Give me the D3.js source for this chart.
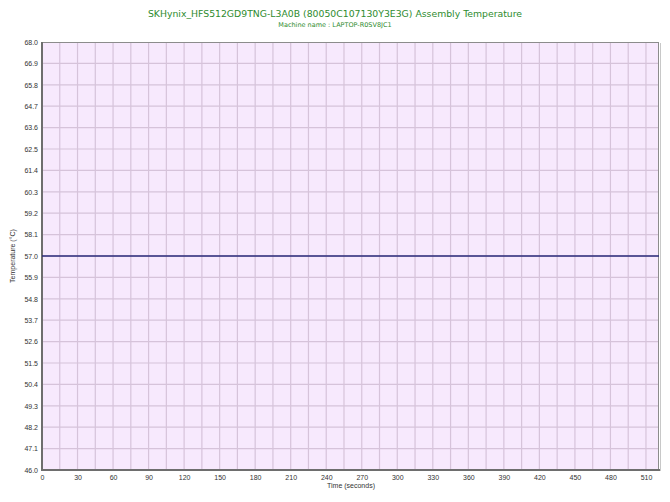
<!DOCTYPE html>
<html><head><meta charset="utf-8">
<script src="https://cdn.jsdelivr.net/npm/d3@7"></script>
<style>body{margin:0;background:#fff;} svg{display:block;}</style>
</head><body>
<svg id="c" width="670" height="502"></svg>
<script>
const titleText = "SKHynix_HFS512GD9TNG-L3A0B (80050C107130Y3E3G) Assembly Temperature";
const subtitleText = "Machine name : LAPTOP-R0SV8JC1";
const timeSeconds = [0, 521];
const temperatureC = [57.0, 57.0];
const xTickValues = [0,30,60,90,120,150,180,210,240,270,300,330,360,390,420,450,480,510];
const yTickValues = [46.0,47.1,48.2,49.3,50.4,51.5,52.6,53.7,54.8,55.9,57.0,58.1,59.2,60.3,61.4,62.5,63.6,64.7,65.8,66.9,68.0];

const svg = d3.select("#c");
const L = 42, T = 42, R = 659, B = 470;
const x = d3.scaleLinear().domain([0, 521]).range([L, R]);
const y = d3.scaleLinear().domain([46, 68]).range([B, T]);

svg.append("rect").attr("x", L).attr("y", T).attr("width", R - L).attr("height", B - T).attr("fill", "#f7e9fd");

const gridColor = "#d6c3da";
const vGrid = d3.range(15, 521, 15);
svg.append("g").selectAll("line").data(vGrid).join("line")
  .attr("x1", d => x(d)).attr("x2", d => x(d))
  .attr("y1", T).attr("y2", B).attr("stroke", gridColor).attr("stroke-width", 1.2);
svg.append("g").selectAll("line").data(yTickValues.slice(1, -1)).join("line")
  .attr("y1", d => y(d)).attr("y2", d => y(d))
  .attr("x1", L).attr("x2", R).attr("stroke", gridColor).attr("stroke-width", 1.2);

// frame
svg.append("rect").attr("x", L + 0.5).attr("y", T + 0.5).attr("width", R - L - 1).attr("height", B - T - 1)
  .attr("fill", "none").attr("stroke", "#8c8c8c").attr("stroke-width", 1);
svg.append("line").attr("x1", R + 1.5).attr("x2", R + 1.5).attr("y1", T + 1).attr("y2", B + 1).attr("stroke", "#c8c8c8");
svg.append("line").attr("x1", L).attr("x2", L).attr("y1", T).attr("y2", B + 1).attr("stroke", "#6e6e6e").attr("stroke-width", 2);
svg.append("line").attr("x1", L).attr("x2", R + 1).attr("y1", B).attr("y2", B).attr("stroke", "#6e6e6e").attr("stroke-width", 2);

// line
const line = d3.line().x((d, i) => x(timeSeconds[i])).y(d => y(d));
svg.append("path").datum(temperatureC).attr("d", line).attr("fill", "none")
  .attr("stroke", "#2a2a7a").attr("stroke-width", 1.6);

// axes
const font = "Arial, 'Liberation Sans', sans-serif";
const xAxis = d3.axisBottom(x).tickValues(xTickValues).tickSize(0).tickPadding(5).tickFormat(d3.format("d"));
const gx = svg.append("g").attr("transform", `translate(0,${B})`).call(xAxis);
gx.select(".domain").remove();
gx.selectAll("text").attr("font-family", font).attr("font-size", 7).attr("fill", "#333");

const yAxis = d3.axisLeft(y).tickValues(yTickValues).tickSize(0).tickPadding(4).tickFormat(d3.format(".1f"));
const gy = svg.append("g").attr("transform", `translate(${L},0)`).call(yAxis);
gy.select(".domain").remove();
gy.selectAll("text").attr("font-family", font).attr("font-size", 7).attr("fill", "#333");

svg.append("text").attr("x", 351).attr("y", 488).attr("text-anchor", "middle")
  .attr("font-family", font).attr("font-size", 7).attr("fill", "#333").text("Time (seconds)");
svg.append("text").attr("transform", `translate(15,${(T + B) / 2}) rotate(-90)`).attr("text-anchor", "middle")
  .attr("font-family", font).attr("font-size", 7).attr("fill", "#333").text("Temperature (°C)");

svg.append("text").attr("x", 335).attr("y", 17).attr("text-anchor", "middle")
  .attr("font-family", "'DejaVu Sans', sans-serif").attr("font-size", 9.3).attr("fill", "#2e8b2e").text(titleText);
svg.append("text").attr("x", 335).attr("y", 27).attr("text-anchor", "middle")
  .attr("font-family", "'DejaVu Sans', sans-serif").attr("font-size", 6.5).attr("fill", "#2e8b2e").text(subtitleText);
</script>
</body></html>
